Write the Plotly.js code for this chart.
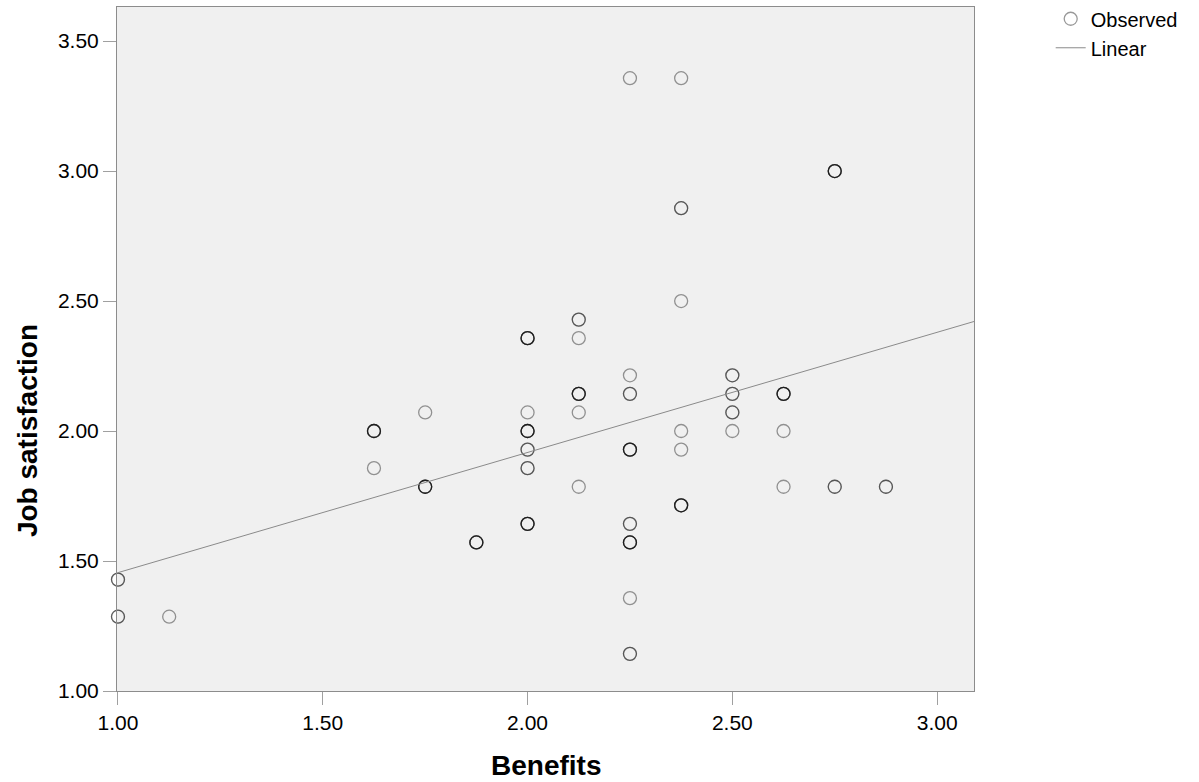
<!DOCTYPE html>
<html>
<head>
<meta charset="utf-8">
<script src="https://cdn.plot.ly/plotly-3.0.1.min.js"></script>
<style>
  html, body { margin: 0; padding: 0; background: #ffffff; }
  #chart { width: 1199px; height: 782px; }
</style>
</head>
<body>
<div id="chart"></div>
<script>
// Benefits score (x), job satisfaction score (y) and how many respondents share each pair
const benefits = [
  1.000, 1.000, 1.125,
  1.625, 1.625,
  1.750, 1.750,
  1.875,
  2.000, 2.000, 2.000, 2.000, 2.000, 2.000,
  2.125, 2.125, 2.125, 2.125, 2.125,
  2.250, 2.250, 2.250, 2.250, 2.250, 2.250, 2.250, 2.250,
  2.375, 2.375, 2.375, 2.375, 2.375, 2.375,
  2.500, 2.500, 2.500, 2.500,
  2.625, 2.625, 2.625,
  2.750, 2.750,
  2.875
];
const satisfaction = [
  1.4286, 1.2857, 1.2857,
  2.0000, 1.8571,
  2.0714, 1.7857,
  1.5714,
  2.3571, 2.0714, 2.0000, 1.9286, 1.8571, 1.6429,
  2.4286, 2.3571, 2.1429, 2.0714, 1.7857,
  3.3571, 2.2143, 2.1429, 1.9286, 1.6429, 1.5714, 1.3571, 1.1429,
  3.3571, 2.8571, 2.5000, 2.0000, 1.9286, 1.7143,
  2.2143, 2.1429, 2.0714, 2.0000,
  2.1429, 2.0000, 1.7857,
  3.0000, 1.7857,
  1.7857
];
const respondents = [
  2, 2, 1,
  4, 1,
  1, 4,
  4,
  4, 1, 4, 2, 2, 4,
  2, 1, 4, 1, 1,
  1, 1, 2, 4, 2, 4, 1, 2,
  1, 2, 1, 1, 1, 4,
  2, 2, 2, 1,
  4, 1, 1,
  4, 2,
  2
];

const xTicks = [1.0, 1.5, 2.0, 2.5, 3.0];
const yTicks = [1.0, 1.5, 2.0, 2.5, 3.0, 3.5];
const xRange = [0.9976, 3.09];
const yRange = [1.0, 3.631];

// One marker per respondent, so coinciding answers stack and look darker
const obsX = [], obsY = [];
benefits.forEach((b, i) => {
  for (let k = 0; k < respondents[i]; k++) {
    obsX.push(b);
    obsY.push(satisfaction[i]);
  }
});

// Ordinary least squares fit over all respondents
const n = obsX.length;
const mx = obsX.reduce((a, v) => a + v, 0) / n;
const my = obsY.reduce((a, v) => a + v, 0) / n;
let sxy = 0, sxx = 0;
for (let i = 0; i < n; i++) {
  sxy += (obsX[i] - mx) * (obsY[i] - my);
  sxx += (obsX[i] - mx) * (obsX[i] - mx);
}
const slope = sxy / sxx;
const intercept = my - slope * mx;
const fitX = [xTicks[0], xRange[1]];
const fitY = fitX.map(v => intercept + slope * v);

const FONT = '"Liberation Sans", Arial, Helvetica, sans-serif';

const traces = [
  {
    type: 'scatter',
    mode: 'markers',
    name: 'Observed',
    x: obsX,
    y: obsY,
    cliponaxis: false,
    marker: {
      symbol: 'circle-open',
      size: 13,
      color: 'rgba(0,0,0,0.4)',
      line: { color: 'rgba(0,0,0,0.4)', width: 1.3 }
    },
    hoverinfo: 'x+y'
  },
  {
    type: 'scatter',
    mode: 'lines',
    name: 'Linear',
    x: fitX,
    y: fitY,
    line: { color: '#8a8a8a', width: 1 },
    hoverinfo: 'skip'
  }
];

const axisCommon = {
  showgrid: false,
  zeroline: false,
  showline: true,
  mirror: true,
  linecolor: '#8c8c8c',
  linewidth: 1,
  ticks: 'outside',
  ticklen: 13,
  tickcolor: '#a0a0a0',
  tickwidth: 1,
  tickformat: '.2f',
  tickfont: { family: FONT, size: 21, color: '#000000' }
};

const layout = {
  width: 1199,
  height: 782,
  margin: { l: 117, r: 225, t: 7, b: 91, pad: 0, autoexpand: false },
  paper_bgcolor: '#ffffff',
  plot_bgcolor: '#f0f0f0',
  font: { family: FONT, color: '#000000' },
  xaxis: Object.assign({}, axisCommon, {
    range: xRange,
    tickmode: 'array',
    tickvals: xTicks
  }),
  yaxis: Object.assign({}, axisCommon, {
    range: yRange,
    tickmode: 'array',
    tickvals: yTicks
  }),
  showlegend: true,
  legend: {
    x: 1.0895,
    xanchor: 'left',
    y: 1.0113,
    yanchor: 'top',
    bgcolor: 'rgba(0,0,0,0)',
    borderwidth: 0,
    font: { family: FONT, size: 20, color: '#000000' }
  },
  annotations: [
    {
      text: '<b>Job satisfaction</b>',
      xref: 'paper', yref: 'paper',
      x: -0.105, y: 0.38,
      xanchor: 'center', yanchor: 'middle',
      textangle: -90,
      showarrow: false,
      font: { family: FONT, size: 28, color: '#000000' }
    },
    {
      text: '<b>Benefits</b>',
      xref: 'paper', yref: 'paper',
      x: 0.5, y: -0.1095,
      xanchor: 'center', yanchor: 'middle',
      showarrow: false,
      font: { family: FONT, size: 28, color: '#000000' }
    }
  ]
};

Plotly.newPlot('chart', traces, layout, { displayModeBar: false, staticPlot: true });
</script>
</body>
</html>
